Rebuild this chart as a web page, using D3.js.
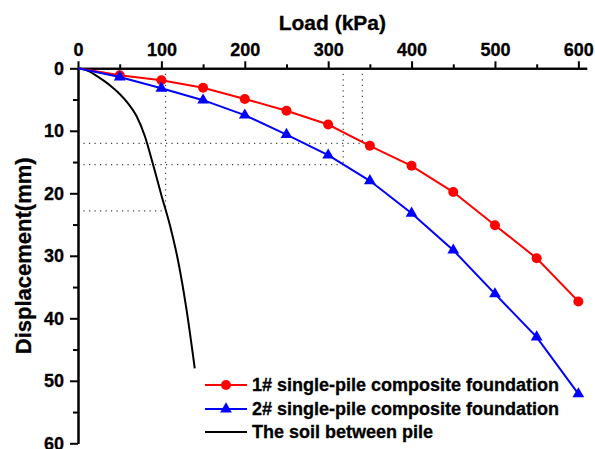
<!DOCTYPE html>
<html><head><meta charset="utf-8">
<script src="https://cdn.jsdelivr.net/npm/d3@7"></script>
<style>
body{margin:0;background:#fff}
text{font-family:"Liberation Sans",Arial,sans-serif;font-weight:bold;fill:#000;stroke:#000;stroke-width:0.3px}
</style>
</head><body><svg id="c" width="595" height="449"></svg>
<script>
// ---- data ----
const loads = [0, 50, 100, 150, 200, 250, 300, 350, 400, 450, 500, 550, 600];
const pile1 = [0, 1.1, 1.9, 3.1, 4.9, 6.8, 9.0, 12.4, 15.6, 19.8, 25.1, 30.4, 37.3];
const pile2 = [0, 1.4, 3.2, 5.1, 7.5, 10.6, 13.9, 18.0, 23.2, 29.1, 36.1, 43.0, 52.1];
const soilLoad = [0, 10, 20, 30, 40, 50, 60, 70, 80, 90, 100, 110, 120, 130, 140];
const soilDisp = [0, 0.3, 1.0, 1.9, 2.9, 4.1, 5.6, 7.6, 10.8, 15.4, 20.3, 25.0, 30.8, 38.5, 48.0];
const guideLoad = [105, 318, 341];
const guideDisp = [22.8, 15.4, 12.0];
const xTicks = [0, 100, 200, 300, 400, 500, 600];
const xMinor = [50, 150, 250, 350, 450, 550];
const yTicks = [0, 10, 20, 30, 40, 50, 60];
const yMinor = [5, 15, 25, 35, 45, 55];
const seriesNames = ["1# single-pile composite foundation", "2# single-pile composite foundation", "The soil between pile"];
const xTitle = "Load (kPa)";
const yTitle = "Displacement(mm)";

// ---- chart ----
const svg = d3.select("#c");
svg.append("rect").attr("width", 595).attr("height", 449).attr("fill", "#fff");
const x = d3.scaleLinear().domain([0, 610]).range([78, 586.7]);
const y = d3.scaleLinear().domain([0, 60]).range([68.3, 443.3]);

// guide dotted lines
const g = svg.append("g").attr("stroke", "#444").attr("stroke-width", 1.2).attr("stroke-dasharray", "1.2,4.3").attr("fill", "none");
guideLoad.forEach((L, i) => {
  g.append("line").attr("x1", x(L)).attr("x2", x(L)).attr("y1", y(0)).attr("y2", y(guideDisp[i]));
  g.append("line").attr("x1", x(0)).attr("x2", x(L)).attr("y1", y(guideDisp[i])).attr("y2", y(guideDisp[i]));
});

// axes
const xAxis = svg.append("g").attr("transform", `translate(0,${y(0)})`)
  .call(d3.axisTop(x).tickValues(xTicks).tickSize(7).tickSizeOuter(0).tickPadding(5).tickFormat(d3.format("d")));
const xMin = svg.append("g").attr("transform", `translate(0,${y(0)})`)
  .call(d3.axisTop(x).tickValues(xMinor).tickSize(4).tickSizeOuter(0).tickFormat(""));
const yAxis = svg.append("g").attr("transform", `translate(${x(0)},0)`)
  .call(d3.axisLeft(y).tickValues(yTicks).tickSize(8).tickSizeOuter(0).tickPadding(6).tickFormat(d3.format("d")));
const yMin = svg.append("g").attr("transform", `translate(${x(0)},0)`)
  .call(d3.axisLeft(y).tickValues(yMinor).tickSize(5).tickSizeOuter(0).tickFormat(""));
[xAxis, xMin, yAxis, yMin].forEach(a => {
  a.selectAll("path,line").attr("stroke", "#000").attr("stroke-width", 2);
  a.selectAll("text").attr("font-size", 18).attr("font-family", "Liberation Sans, Arial, sans-serif").attr("font-weight", "bold");
});

svg.append("text").attr("x", (x(0) + x(610)) / 2).attr("y", 30).attr("text-anchor", "middle")
  .attr("font-size", 21).text(xTitle);
svg.append("text").attr("transform", `translate(31,${(y(0) + y(60)) / 2}) rotate(-90)`).attr("text-anchor", "middle")
  .attr("font-size", 22).text(yTitle);

// lines
const line = d3.line().x(d => x(d[0])).y(d => y(d[1]));
const soil = soilLoad.map((l, i) => [l, soilDisp[i]]);
const s1 = loads.map((l, i) => [l, pile1[i]]);
const s2 = loads.map((l, i) => [l, pile2[i]]);
svg.append("path").attr("d", line.curve(d3.curveMonotoneX)(soil)).attr("fill", "none").attr("stroke", "#000").attr("stroke-width", 2);
line.curve(d3.curveLinear);
svg.append("path").attr("d", line(s1)).attr("fill", "none").attr("stroke", "#ff0000").attr("stroke-width", 2);
svg.selectAll("circle.p1").data(s1.slice(1)).enter().append("circle").attr("class", "p1")
  .attr("cx", d => x(d[0])).attr("cy", d => y(d[1])).attr("r", 5).attr("fill", "#ff0000");
svg.append("path").attr("d", line(s2)).attr("fill", "none").attr("stroke", "#0000ff").attr("stroke-width", 2);
const tri = d3.symbol().type(d3.symbolTriangle).size(60);
svg.selectAll("path.p2").data(s2.slice(1)).enter().append("path").attr("class", "p2")
  .attr("d", tri).attr("transform", d => `translate(${x(d[0])},${y(d[1])})`).attr("fill", "#0000ff");

// legend
const lg = svg.append("g");
const colors = ["#ff0000", "#0000ff", "#000"];
const ly = [385, 409, 432];
seriesNames.forEach((n, i) => {
  lg.append("line").attr("x1", 205).attr("x2", 247).attr("y1", ly[i]).attr("y2", ly[i]).attr("stroke", colors[i]).attr("stroke-width", 2);
  if (i === 0) lg.append("circle").attr("cx", 226).attr("cy", ly[i]).attr("r", 5).attr("fill", colors[i]);
  if (i === 1) lg.append("path").attr("d", tri).attr("transform", `translate(226,${ly[i]})`).attr("fill", colors[i]);
  lg.append("text").attr("x", 252).attr("y", ly[i]).attr("dy", "0.36em").attr("font-size", 18).text(n);
});
</script>
</body></html>
